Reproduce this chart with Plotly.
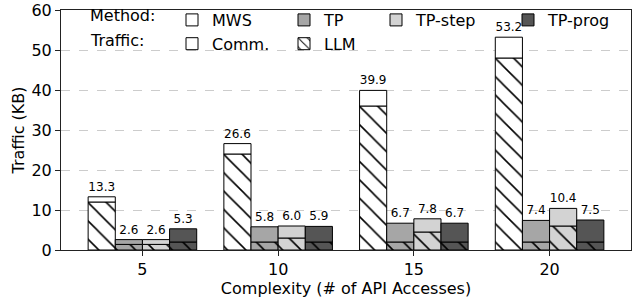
import plotly.graph_objects as go

categories = ["5", "10", "15", "20"]
methods = ["MWS", "TP", "TP-step", "TP-prog"]
method_colors = ["#ffffff", "#a6a6a6", "#d3d3d3", "#555555"]

mws_total = [13.3, 26.6, 39.9, 53.2]
tp_total = [2.6, 5.8, 6.7, 7.4]
tpstep_total = [2.6, 6.0, 7.8, 10.4]
tpprog_total = [5.3, 5.9, 6.7, 7.5]

mws_llm = [12.0, 24.0, 36.0, 48.0]
tp_llm = [1.4, 2.0, 2.0, 2.0]
tpstep_llm = [1.4, 3.0, 4.5, 6.0]
tpprog_llm = [2.0, 2.0, 2.0, 2.0]

totals = [mws_total, tp_total, tpstep_total, tpprog_total]
llms = [mws_llm, tp_llm, tpstep_llm, tpprog_llm]

FONT = "DejaVu Sans"
legend_names = ["legend", "legend2", "legend3", "legend4"]

fig = go.Figure()
for i, (m, col, tot, llm) in enumerate(zip(methods, method_colors, totals, llms)):
    comm = [t - l for t, l in zip(tot, llm)]
    fig.add_trace(go.Bar(
        x=categories, y=llm, base=[0] * len(llm), offsetgroup=m,
        marker=dict(color=col, line=dict(color="black", width=1),
                    pattern=dict(shape="\\", fillmode="replace", bgcolor=col,
                                 fgcolor="black", size=13, solidity=0.12)),
        showlegend=False, hoverinfo="skip"))
    fig.add_trace(go.Bar(
        x=categories, y=comm, base=llm, offsetgroup=m, name=m,
        marker=dict(color=col, line=dict(color="black", width=1)),
        text=[f"{t:.1f}" for t in tot], textposition="outside",
        constraintext="none", cliponaxis=False,
        textfont=dict(family=FONT, size=12, color="black"),
        legend=legend_names[i], legendgroup=m, showlegend=True))

fig.add_trace(go.Bar(
    x=[categories[0]], y=[None], offsetgroup="MWS", name="Comm.",
    marker=dict(color="white", line=dict(color="black", width=1)),
    legend="legend", legendgroup="comm", showlegend=True))
fig.add_trace(go.Bar(
    x=[categories[0]], y=[None], offsetgroup="MWS", name="LLM",
    marker=dict(color="white", line=dict(color="black", width=1),
                pattern=dict(shape="\\", fillmode="replace", bgcolor="white",
                             fgcolor="black", size=8, solidity=0.15)),
    legend="legend2", legendgroup="llm", showlegend=True))

L, R, T, B = 61, 7, 10, 52
W, H = 638, 302
pw, ph = W - L - R, H - T - B

def px_x(px):
    return (px - L) / pw

def px_y(py):
    return (H - B - py) / ph

col_left = [190, 302, 394, 526]
leg_common = dict(orientation="v", bgcolor="rgba(0,0,0,0)", borderwidth=0,
                  font=dict(family=FONT, size=16, color="black"),
                  yanchor="top", xanchor="left", tracegroupgap=0,
                  itemwidth=30, traceorder="grouped")
layout_legends = {}
for name, cx in zip(legend_names, col_left):
    layout_legends[name] = dict(leg_common, x=px_x(cx - 18), y=px_y(3))

fig.update_layout(
    width=W, height=H,
    margin=dict(l=L, r=R, t=T, b=B, autoexpand=False),
    paper_bgcolor="white", plot_bgcolor="white",
    barmode="group", bargap=0.2, bargroupgap=0,
    font=dict(family=FONT, size=16, color="black"),
    **layout_legends,
    xaxis=dict(
        type="category", categoryorder="array", categoryarray=categories,
        range=[-0.6, 3.6], showline=True, linecolor="#222", linewidth=1,
        mirror=True, ticks="outside", ticklen=5, tickcolor="#222",
        tickfont=dict(family=FONT, size=16), showgrid=False, automargin=False,
        title=dict(text="Complexity (# of API Accesses)",
                   font=dict(family=FONT, size=16), standoff=2)),
    yaxis=dict(
        range=[0, 60], tickvals=[0, 10, 20, 30, 40, 50, 60],
        showline=True, linecolor="#222", linewidth=1, mirror=True,
        ticks="outside", ticklen=5, tickcolor="#222",
        tickfont=dict(family=FONT, size=16), automargin=False,
        ticklabeloverflow="allow",
        showgrid=True, gridcolor="#cccccc", griddash="dash", gridwidth=1,
        zeroline=False,
        title=dict(text="Traffic (KB)", font=dict(family=FONT, size=16), standoff=2)),
    annotations=[
        dict(text="Method:", xref="paper", yref="paper", x=px_x(88), y=px_y(15),
             xanchor="left", yanchor="middle", showarrow=False,
             font=dict(family=FONT, size=16, color="black")),
        dict(text="Traffic:", xref="paper", yref="paper", x=px_x(88), y=px_y(40),
             xanchor="left", yanchor="middle", showarrow=False,
             font=dict(family=FONT, size=16, color="black")),
    ],
)

fig.write_html("out.html", config={"displayModeBar": False},
               post_script="document.body.style.margin='0';")
